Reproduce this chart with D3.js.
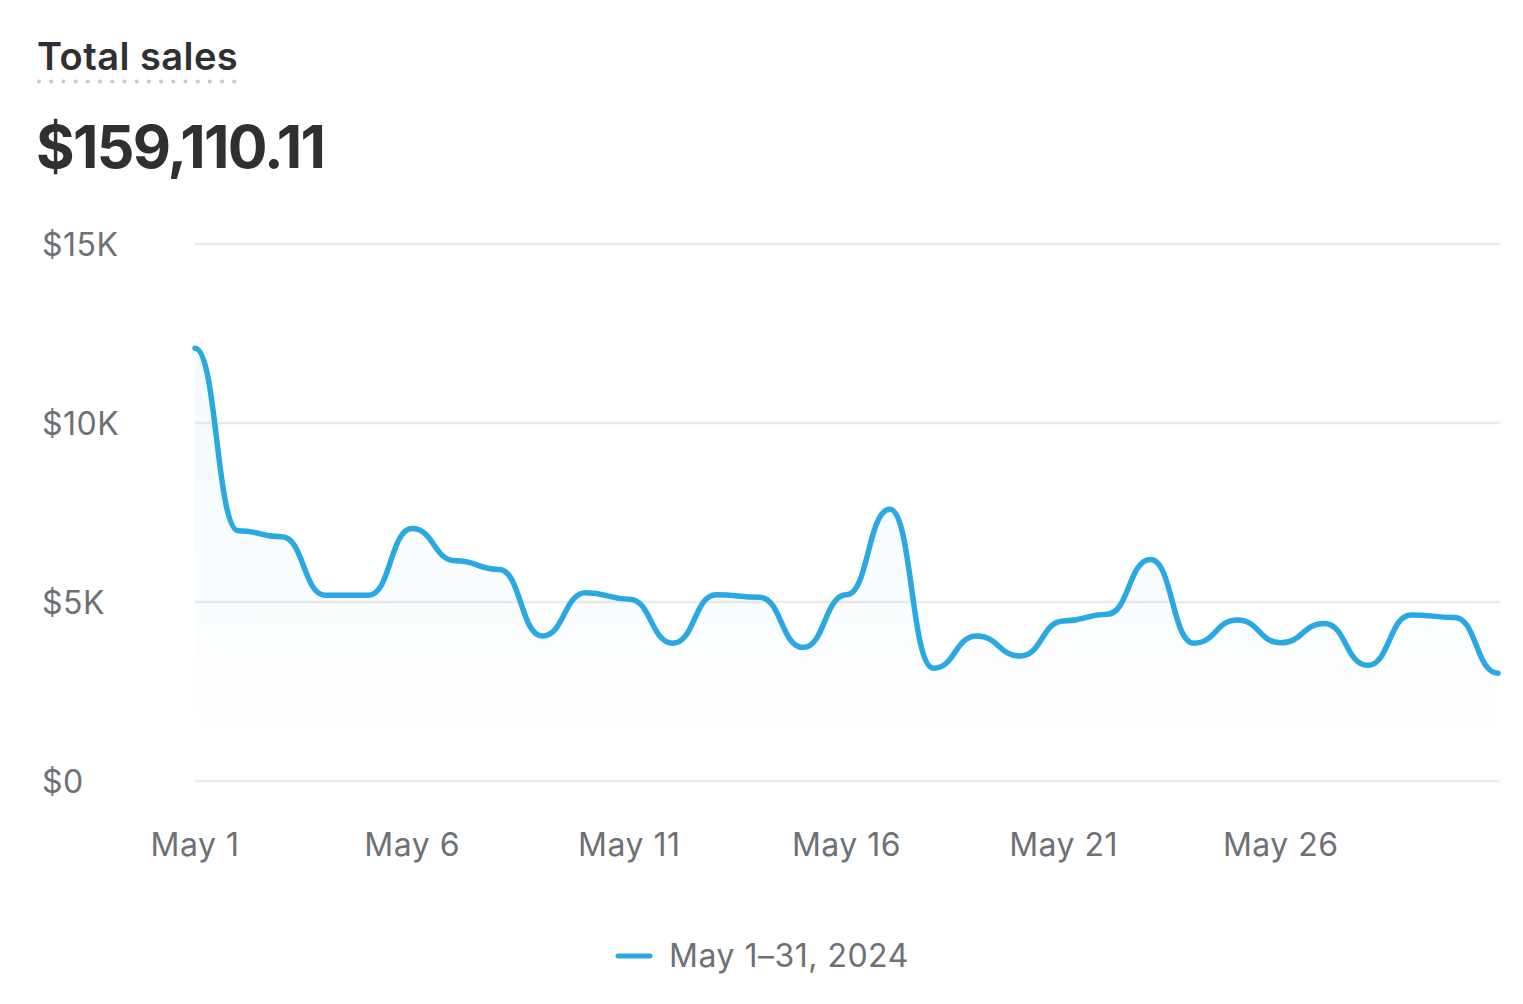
<!DOCTYPE html>
<html>
<head>
<meta charset="utf-8">
<script src="https://cdn.jsdelivr.net/npm/d3@7"></script>
<style>
  html, body { margin: 0; padding: 0; background: #fff; }
  svg { display: block; font-family: Inter, "Noto Sans", sans-serif; }
</style>
</head>
<body>
<svg id="chart" width="1523" height="1004"></svg>
<script>
const titleText = "Total sales";
const totalText = "$159,110.11";
const legendLabel = "May 1–31, 2024";

const days = d3.range(1, 32);
const sales = [12090, 6990, 6820, 5190, 5190, 7050, 6150, 5910, 4050, 5260,
               5080, 3850, 5200, 5130, 3730, 5200, 7590, 3150, 4050, 3490,
               4470, 4660, 6190, 3850, 4500, 3860, 4400, 3230, 4640, 4570, 3010];
const yTicks = [0, 5000, 10000, 15000];
const yTickLabels = ["$0", "$5K", "$10K", "$15K"];
const xTickDays = [1, 6, 11, 16, 21, 26];
const xTickLabels = ["May 1", "May 6", "May 11", "May 16", "May 21", "May 26"];

const data = days.map((d, i) => ({ day: d, value: sales[i] }));

const svg = d3.select("#chart");
const lineColor = "#29a8e2";

const x = d3.scaleLinear().domain([1, 31]).range([195, 1498]);
const y = d3.scaleLinear().domain([0, 15000]).range([781, 244]);

// Title
svg.append("text")
  .attr("x", 37).attr("y", 70)
  .attr("font-size", 38).attr("font-weight", 600)
  .attr("letter-spacing", 0.45)
  .attr("fill", "#303030")
  .text(titleText);

// dotted underline
svg.append("line")
  .attr("x1", 39).attr("x2", 237)
  .attr("y1", 81.5).attr("y2", 81.5)
  .attr("stroke", "#c9c9c9")
  .attr("stroke-width", 4)
  .attr("stroke-linecap", "round")
  .attr("stroke-dasharray", "0.1 12.1");

// Big total
svg.append("text")
  .attr("x", 36).attr("y", 168)
  .attr("font-size", 59).attr("font-weight", 700)
  .attr("letter-spacing", -1.7)
  .attr("fill", "#303030")
  .text(totalText);

// Gradient
const defs = svg.append("defs");
const grad = defs.append("linearGradient")
  .attr("id", "areaGrad")
  .attr("x1", 0).attr("y1", 0).attr("x2", 0).attr("y2", 1);
grad.append("stop").attr("offset", "0%").attr("stop-color", lineColor).attr("stop-opacity", 0.06);
grad.append("stop").attr("offset", "100%").attr("stop-color", lineColor).attr("stop-opacity", 0.0);

// Grid lines
const grid = svg.append("g");
grid.selectAll("line")
  .data(yTicks)
  .join("line")
  .attr("x1", 195).attr("x2", 1500)
  .attr("y1", d => y(d)).attr("y2", d => y(d))
  .attr("stroke", "#ebebeb")
  .attr("stroke-width", 2.5);

// Y labels
svg.append("g").selectAll("text")
  .data(yTicks)
  .join("text")
  .attr("x", 42)
  .attr("y", d => y(d))
  .attr("dy", "0.36em")
  .attr("font-size", 32)
  .attr("letter-spacing", 0.5)
  .attr("fill", "#6d7175")
  .text((d, i) => yTickLabels[i]);

// X labels
svg.append("g").selectAll("text")
  .data(xTickDays)
  .join("text")
  .attr("x", d => x(d))
  .attr("y", 856)
  .attr("text-anchor", "middle")
  .attr("font-size", 32)
  .attr("letter-spacing", 0.5)
  .attr("fill", "#6d7175")
  .text((d, i) => xTickLabels[i]);

// Area
const area = d3.area()
  .x(d => x(d.day))
  .y0(y(0))
  .y1(d => y(d.value))
  .curve(d3.curveBumpX);

svg.append("path")
  .datum(data)
  .attr("d", area)
  .attr("fill", "url(#areaGrad)");

// Line
const line = d3.line()
  .x(d => x(d.day))
  .y(d => y(d.value))
  .curve(d3.curveBumpX);

svg.append("path")
  .datum(data)
  .attr("d", line)
  .attr("fill", "none")
  .attr("stroke", lineColor)
  .attr("stroke-width", 5.5)
  .attr("stroke-linejoin", "round")
  .attr("stroke-linecap", "round");

// Legend
svg.append("line")
  .attr("x1", 618).attr("x2", 650)
  .attr("y1", 956).attr("y2", 956)
  .attr("stroke", lineColor)
  .attr("stroke-width", 5)
  .attr("stroke-linecap", "round");

svg.append("text")
  .attr("x", 669).attr("y", 967)
  .attr("font-size", 32)
  .attr("letter-spacing", 0.5)
  .attr("fill", "#6d7175")
  .text(legendLabel);
</script>
</body>
</html>
